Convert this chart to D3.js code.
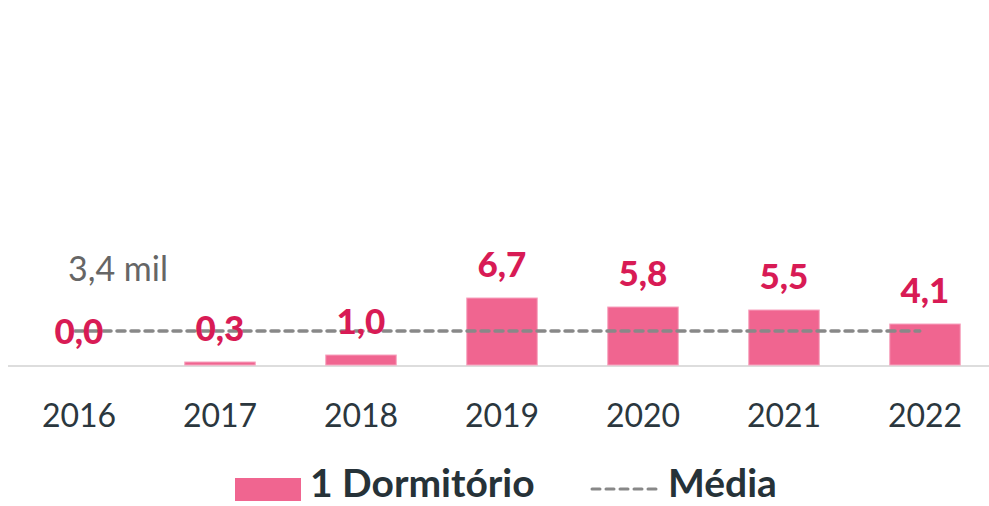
<!DOCTYPE html>
<html>
<head>
<meta charset="utf-8">
<script src="https://d3js.org/d3.v7.min.js"></script>
<style>
body { margin: 0; background: #fff; }
text { font-family: Lato, "Noto Sans", sans-serif; }
</style>
</head>
<body>
<script>

var years = ["2016", "2017", "2018", "2019", "2020", "2021", "2022"];
var values = [0.0, 0.3, 1.0, 6.7, 5.8, 5.5, 4.1];
var media = 3.4;
var seriesName = "1 Dormitório";
var mediaName = "Média";

var width = 989,
    height = 506,
    baseY = 365;

var fmt = function(v) { return d3.format(".1f")(v).replace(".", ","); };

var svg = d3.select("body").append("svg")
  .attr("width", width)
  .attr("height", height);

var x = d3.scaleBand()
  .domain(years)
  .range([8.5, 995.5])
  .paddingInner(0.5)
  .paddingOuter(0.25);

var y = d3.scaleLinear()
  .domain([0, 10])
  .range([baseY, baseY - 100]);

// baseline
svg.append("line")
  .attr("x1", 8).attr("x2", 989)
  .attr("y1", baseY + 1).attr("y2", baseY + 1)
  .attr("stroke", "#dddddd")
  .attr("stroke-width", 2);

svg.selectAll("rect.bar")
  .data(values)
  .enter().append("rect")
  .attr("class", "bar")
  .attr("x", function(d, i) { return x(years[i]); })
  .attr("width", x.bandwidth())
  .attr("y", function(d) { return y(d); })
  .attr("height", function(d) { return baseY - y(d); })
  .attr("fill", "#f06590")
  .attr("stroke", "#f7a3bf")
  .attr("stroke-width", function(d) { return d > 0 ? 1 : 0; });

// media line
svg.append("line")
  .attr("x1", x(years[0]) + x.bandwidth() / 2 - 4)
  .attr("x2", x(years[6]) + 30)
  .attr("y1", y(media)).attr("y2", y(media))
  .attr("stroke", "#888888")
  .attr("stroke-width", 3.5)
  .attr("stroke-dasharray", "8,6")
  .attr("stroke-linecap", "round");

svg.append("text")
  .attr("x", 68)
  .attr("y", y(media) - 50)
  .attr("fill", "#666666")
  .attr("font-size", 34)
  .text(fmt(media) + " mil");

svg.selectAll("text.val")
  .data(values)
  .enter().append("text")
  .attr("class", "val")
  .attr("x", function(d, i) { return x(years[i]) + x.bandwidth() / 2; })
  .attr("y", function(d) { return y(d) - 21; })
  .attr("text-anchor", "middle")
  .attr("fill", "#d81b55")
  .attr("font-weight", 900)
  .attr("font-size", 35)
  .text(function(d) { return fmt(d); });

var xAxis = svg.append("g")
  .attr("transform", "translate(0," + baseY + ")")
  .call(d3.axisBottom(x).tickSize(0).tickPadding(0));
xAxis.select(".domain").remove();
xAxis.selectAll("text")
  .attr("dy", null)
  .attr("y", 62)
  .attr("fill", "#2b373e")
  .attr("font-size", 32)
  .style("font-family", "Lato, 'Noto Sans', sans-serif");

// legend
var leg = svg.append("g");
leg.append("rect")
  .attr("x", 235).attr("y", 478)
  .attr("width", 66).attr("height", 23)
  .attr("fill", "#f06590");
leg.append("text")
  .attr("x", 310).attr("y", 497)
  .attr("fill", "#263238")
  .attr("font-weight", "bold")
  .attr("font-size", 39)
  .text(seriesName);
leg.append("line")
  .attr("x1", 592).attr("x2", 662)
  .attr("y1", 489).attr("y2", 489)
  .attr("stroke", "#888888")
  .attr("stroke-width", 3)
  .attr("stroke-dasharray", "8,6")
  .attr("stroke-linecap", "round");
leg.append("text")
  .attr("x", 668).attr("y", 497)
  .attr("fill", "#263238")
  .attr("font-weight", "bold")
  .attr("font-size", 39)
  .text(mediaName);

</script>
</body>
</html>
